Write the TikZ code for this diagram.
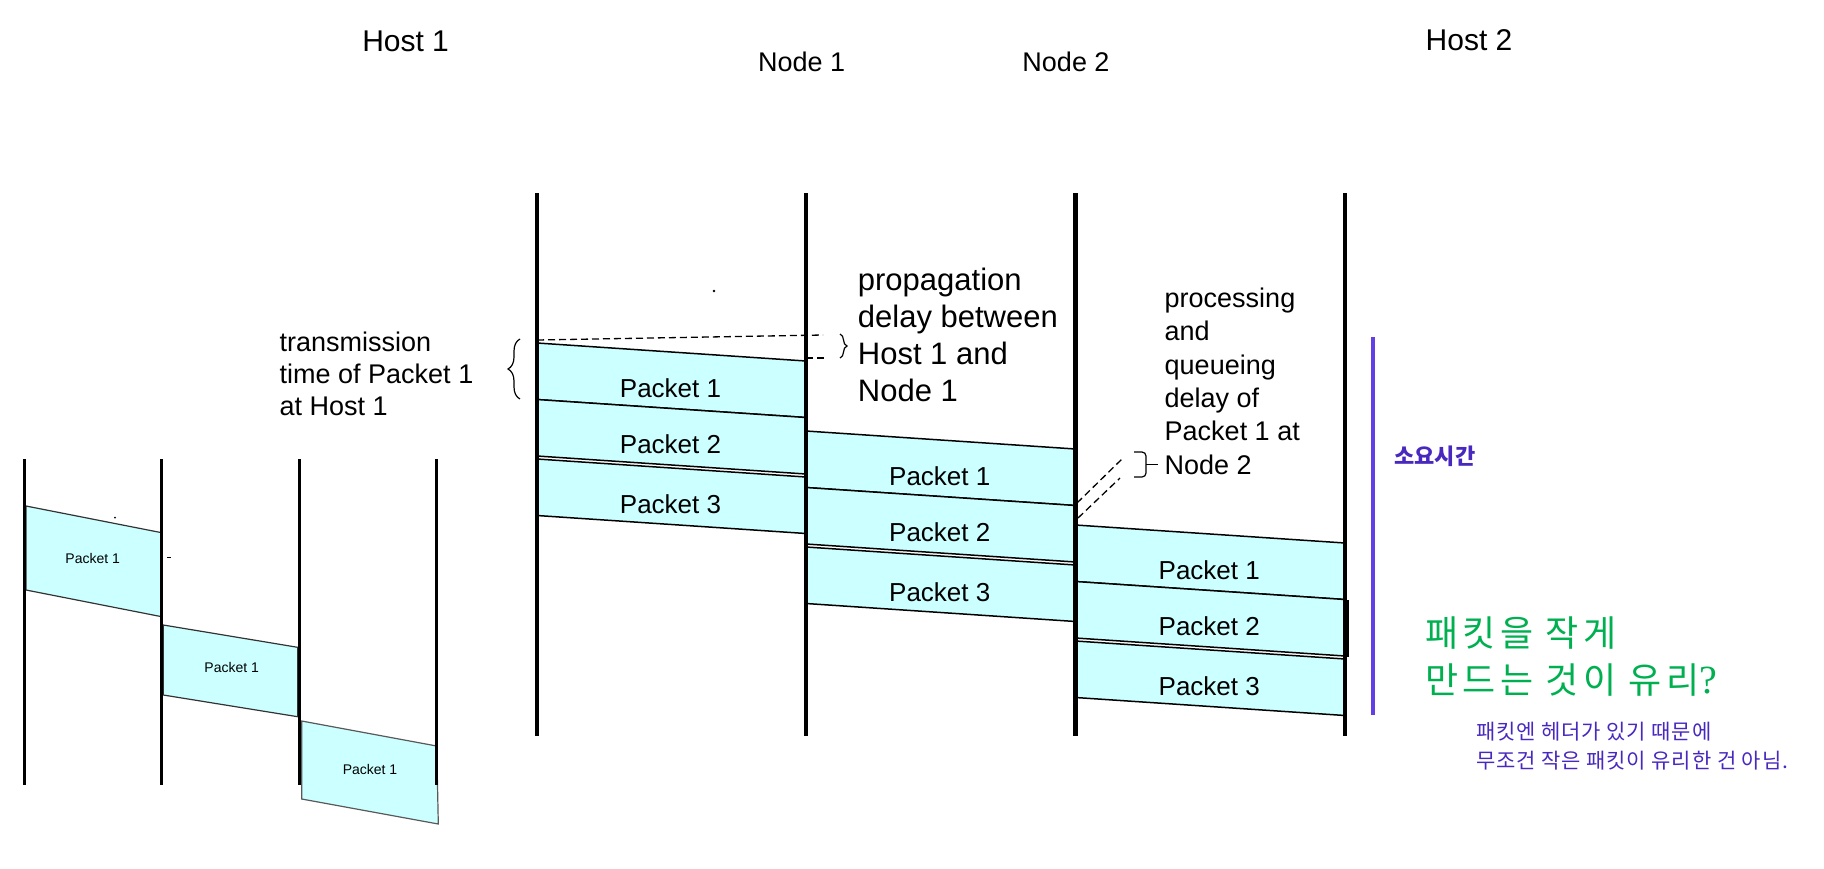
\documentclass[tikz,border=0pt]{standalone}
\usepackage{fontspec}
\setmainfont{Liberation Sans}
\newfontfamily\kofont{Noto Sans CJK KR}
\newfontfamily\kowide[LetterSpace=12]{Noto Sans CJK KR}
\newfontfamily\konote[LetterSpace=4]{Noto Sans CJK KR}
\newfontfamily\qfont{Liberation Serif}
\usetikzlibrary{calc,decorations.pathreplacing}

\definecolor{pktcyan}{RGB}{204,255,255}
\definecolor{barpurple}{RGB}{98,64,230}
\definecolor{notepurple}{RGB}{72,40,190}
\definecolor{notegreen}{RGB}{0,176,80}

\tikzset{
  timeline/.style={line width=2.3pt},
  minitimeline/.style={line width=1.6pt},
  pkt/.style={fill=pktcyan, draw=black, line width=0.75pt},
  minipkt/.style={fill=pktcyan, draw=black!80, line width=0.6pt},
  pktlabel/.style={font=\fontsize{13}{15}\selectfont, inner sep=0pt},
  minilabel/.style={font=\fontsize{7}{8}\selectfont, inner sep=0pt},
  delayline/.style={dash pattern=on 3.5pt off 2pt, line width=0.65pt},
  note/.style={align=left, inner sep=0pt, anchor=base west},
}

\newcommand{\pktbox}[4]{% slanted packet from x=#1 to x=#2, top at y=#3 on the left, #4 tall
  \draw[pkt] (#1,#3) -- (#2,{#3+18}) -- (#2,{#3+18+#4}) -- (#1,{#3+#4}) -- cycle;
}
\newcommand{\pkttrain}[4]{% three packets on one link, #1 names the labels
  \pktbox{#2}{#3}{#4}{56.5}
  \pktbox{#2}{#3}{#4+56.5}{56.5}
  \pktbox{#2}{#3}{#4+116}{56.5}
  \node[pktlabel] (#1p1) at ({(#2+#3)/2-1},{#4+45}) {Packet 1};
  \node[pktlabel] (#1p2) at ({(#2+#3)/2-1},{#4+101.5}) {Packet 2};
  \node[pktlabel] (#1p3) at ({(#2+#3)/2-1},{#4+161}) {Packet 3};
}

\begin{document}
\begin{tikzpicture}[x=0.5pt,y=-0.5pt]
  \useasboundingbox (0,0) rectangle (1824,868);

  % one packet, store and forward (small sketch)
  \draw[minipkt] (26,506) -- (161.7,532.7) -- (161.7,616.7) -- (26,590) -- cycle;
  \draw[minipkt] (163.3,625) -- (297.7,647.3) -- (297.7,716.7) -- (163.3,695) -- cycle;
  \draw[minipkt, draw=black!65] (301.7,721) -- (436.7,746) -- (438.3,824) -- (301.7,799) -- cycle;
  \node[minilabel] (mini1) at (92.7,558.3) {Packet 1};
  \node[minilabel] (mini2) at (231.7,667.3) {Packet 1};
  \node[minilabel] (mini3) at (370,769.3) {Packet 1};
  \foreach \x/\n in {24.3/ma,161.7/mb,299.3/mc,436.7/md} {
    \coordinate (\n-top) at (\x,459.3);
    \coordinate (\n-bot) at (\x,785);
    \draw[minitimeline] (\n-top) -- (\n-bot);
  }
  \fill (115,517.7) circle (0.5pt);
  \draw[line width=0.5pt] (167,557.3) -- (171,557.3);

  % three packets over two routers
  \pkttrain{h1}{537}{806}{343}
  \pkttrain{na}{806}{1075.5}{431}
  \pkttrain{nb}{1075.5}{1345}{525}
  \foreach \x/\n in {537/h1,806/n1,1075.5/n2,1345/h2} {
    \coordinate (\n-top) at (\x,193);
    \coordinate (\n-bot) at (\x,736);
    \draw[timeline] (\n-top) -- (\n-bot);
  }
  \draw[line width=1.2pt] (1348,600) -- (1348,656.5);
  \fill (714,291) circle (0.7pt);

  \node[font=\fontsize{15}{18}\selectfont, inner sep=0pt] (host1) at (405.6,41) {Host 1};
  \node[font=\fontsize{13.5}{16}\selectfont, inner sep=0pt] (node1) at (801.6,61.7) {Node 1};
  \node[font=\fontsize{13.5}{16}\selectfont, inner sep=0pt] (node2) at (1066,61.7) {Node 2};
  \node[font=\fontsize{15}{18}\selectfont, inner sep=0pt] (host2) at (1469,40) {Host 2};

  % transmission time
  \node[note, font=\fontsize{13.5}{16}\selectfont] (txnote) at (279.3,415)
    {transmission\\time of Packet 1\\at Host 1};
  \draw[decorate, decoration={brace, amplitude=6pt}, line width=0.6pt] (520,399) -- (520,339);

  % propagation delay
  \coordinate (propA0) at (537,340);
  \coordinate (propA1) at (823,335);
  \coordinate (propB0) at (806,358);
  \coordinate (propB1) at (827,358);
  \draw[delayline] (propA0) -- (propA1);
  \draw[delayline] (propB0) -- (propB1);
  \draw[decorate, decoration={brace, amplitude=3.5pt}, line width=0.6pt] (840,334) -- (840,358);
  \node[note, font=\fontsize{15.5}{18.5}\selectfont] (propnote) at (857.5,401.5)
    {propagation\\delay between\\Host 1 and\\Node 1};

  % processing and queueing delay
  \coordinate (procA0) at (1077,503);
  \coordinate (procA1) at (1123,458);
  \coordinate (procB0) at (1078,518);
  \coordinate (procB1) at (1120,478);
  \draw[delayline] (procA0) -- (procA1);
  \draw[delayline] (procB0) -- (procB1);
  \draw[line width=0.6pt, rounded corners=2pt] (1134,452) -- (1146,452) -- (1146,477) -- (1134,477);
  \draw[line width=0.6pt] (1146,464.5) -- (1158,464.5);
  \node[note, font=\fontsize{13.5}{16.7}\selectfont] (procnote) at (1164.3,474.3)
    {processing\\and\\queueing\\delay of\\Packet 1 at\\Node 2};

  % total time and remarks
  \coordinate (bar-top) at (1373,337);
  \coordinate (bar-bot) at (1373,715);
  \draw[barpurple, line width=1.7pt] (bar-top) -- (bar-bot);
  \node[anchor=west, inner sep=0pt, text=notepurple, font=\kofont\bfseries\fontsize{11}{13}\selectfont]
    (elapsed) at (1394,456) {소요시간};
  \node[note, text=notegreen, font=\kowide\fontsize{18}{23.25}\selectfont] (smallq) at (1425,693)
    {패킷을 작게\\만드는 것이 유리{\qfont\fontsize{20}{23}\selectfont ?}};
  \node[note, text=notepurple, font=\konote\fontsize{10.5}{14.2}\selectfont] (hdrnote) at (1476,768.3)
    {패킷엔 헤더가 있기 때문에\\무조건 작은 패킷이 유리한 건 아님.};
\end{tikzpicture}
\end{document}
